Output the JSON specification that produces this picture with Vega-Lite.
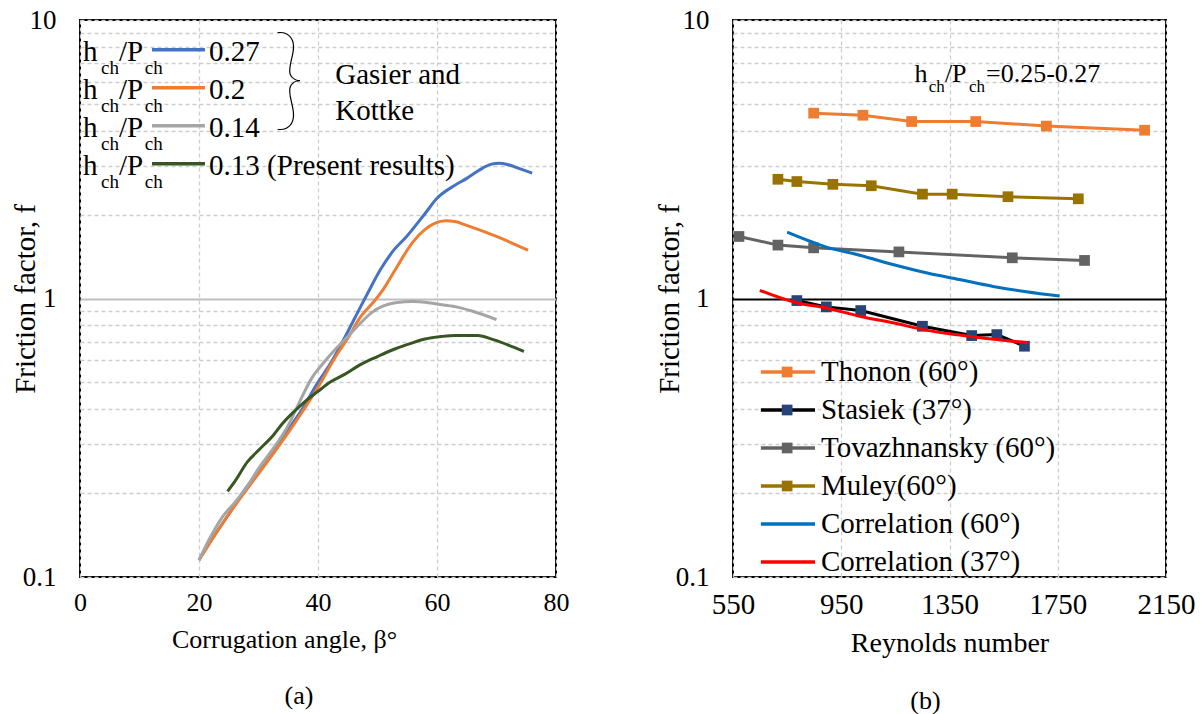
{
  "$schema": "https://vega.github.io/schema/vega-lite/v6.json",
  "background": "white",
  "padding": {"left": 10, "top": 5, "right": 5, "bottom": 0},
  "spacing": 84,
  "resolve": {"scale": {"color": "independent", "fill": "independent", "strokeWidth": "independent"}},
  "config": {
    "font": "Liberation Serif",
    "view": {"stroke": "black", "strokeWidth": 2},
    "axis": {
      "domain": false, "ticks": false, "labelColor": "black", "titleColor": "black",
      "titleFontWeight": "normal", "labelFont": "Liberation Serif", "titleFont": "Liberation Serif",
      "gridColor": "#CDCDCD", "gridDash": [4, 3], "gridWidth": 1.3,
      "labelOverlap": false, "labelFlush": false
    },
    "text": {"font": "Liberation Serif", "color": "black"}
  },
  "datasets": {
    "angleData": [
      {"series": "0.27", "angle": 20, "f": 0.115}, {"series": "0.27", "angle": 22, "f": 0.135},
      {"series": "0.27", "angle": 25, "f": 0.168}, {"series": "0.27", "angle": 28, "f": 0.21},
      {"series": "0.27", "angle": 30, "f": 0.237}, {"series": "0.27", "angle": 33, "f": 0.29},
      {"series": "0.27", "angle": 35, "f": 0.338}, {"series": "0.27", "angle": 37, "f": 0.39},
      {"series": "0.27", "angle": 40, "f": 0.5}, {"series": "0.27", "angle": 42, "f": 0.58},
      {"series": "0.27", "angle": 45, "f": 0.76}, {"series": "0.27", "angle": 47, "f": 0.92},
      {"series": "0.27", "angle": 48.5, "f": 1.06}, {"series": "0.27", "angle": 50.5, "f": 1.27},
      {"series": "0.27", "angle": 52.5, "f": 1.47}, {"series": "0.27", "angle": 55, "f": 1.68},
      {"series": "0.27", "angle": 58, "f": 2.02}, {"series": "0.27", "angle": 60, "f": 2.29},
      {"series": "0.27", "angle": 63, "f": 2.55}, {"series": "0.27", "angle": 65, "f": 2.7},
      {"series": "0.27", "angle": 67, "f": 2.88}, {"series": "0.27", "angle": 69, "f": 3.03},
      {"series": "0.27", "angle": 70.5, "f": 3.06}, {"series": "0.27", "angle": 72, "f": 3.02},
      {"series": "0.27", "angle": 74, "f": 2.92}, {"series": "0.27", "angle": 76, "f": 2.82},

      {"series": "0.2", "angle": 20, "f": 0.115}, {"series": "0.2", "angle": 25, "f": 0.168},
      {"series": "0.2", "angle": 30, "f": 0.235}, {"series": "0.2", "angle": 35, "f": 0.33},
      {"series": "0.2", "angle": 40, "f": 0.48}, {"series": "0.2", "angle": 43, "f": 0.62},
      {"series": "0.2", "angle": 45, "f": 0.72}, {"series": "0.2", "angle": 47, "f": 0.85},
      {"series": "0.2", "angle": 49.4, "f": 0.975}, {"series": "0.2", "angle": 51, "f": 1.08},
      {"series": "0.2", "angle": 52.8, "f": 1.25}, {"series": "0.2", "angle": 56, "f": 1.6},
      {"series": "0.2", "angle": 58, "f": 1.77}, {"series": "0.2", "angle": 59.6, "f": 1.86},
      {"series": "0.2", "angle": 61.5, "f": 1.9}, {"series": "0.2", "angle": 63, "f": 1.89},
      {"series": "0.2", "angle": 65, "f": 1.83}, {"series": "0.2", "angle": 70, "f": 1.67},
      {"series": "0.2", "angle": 75.3, "f": 1.49},

      {"series": "0.14", "angle": 20, "f": 0.115}, {"series": "0.14", "angle": 22, "f": 0.14},
      {"series": "0.14", "angle": 24, "f": 0.165}, {"series": "0.14", "angle": 26, "f": 0.185},
      {"series": "0.14", "angle": 28, "f": 0.21}, {"series": "0.14", "angle": 30, "f": 0.245},
      {"series": "0.14", "angle": 33, "f": 0.3}, {"series": "0.14", "angle": 35, "f": 0.35},
      {"series": "0.14", "angle": 37, "f": 0.43}, {"series": "0.14", "angle": 39, "f": 0.52},
      {"series": "0.14", "angle": 41, "f": 0.59}, {"series": "0.14", "angle": 43, "f": 0.66},
      {"series": "0.14", "angle": 45, "f": 0.73}, {"series": "0.14", "angle": 47, "f": 0.81},
      {"series": "0.14", "angle": 49, "f": 0.89}, {"series": "0.14", "angle": 51, "f": 0.94},
      {"series": "0.14", "angle": 53, "f": 0.965}, {"series": "0.14", "angle": 56, "f": 0.975},
      {"series": "0.14", "angle": 58, "f": 0.97}, {"series": "0.14", "angle": 60, "f": 0.955},
      {"series": "0.14", "angle": 63, "f": 0.935}, {"series": "0.14", "angle": 66, "f": 0.9},
      {"series": "0.14", "angle": 70, "f": 0.84},

      {"series": "0.13", "angle": 24.8, "f": 0.203}, {"series": "0.13", "angle": 26, "f": 0.22},
      {"series": "0.13", "angle": 28.2, "f": 0.26}, {"series": "0.13", "angle": 30, "f": 0.285},
      {"series": "0.13", "angle": 32.6, "f": 0.325}, {"series": "0.13", "angle": 34, "f": 0.355},
      {"series": "0.13", "angle": 36, "f": 0.393}, {"series": "0.13", "angle": 38, "f": 0.43},
      {"series": "0.13", "angle": 40, "f": 0.464}, {"series": "0.13", "angle": 42, "f": 0.5},
      {"series": "0.13", "angle": 44.4, "f": 0.533}, {"series": "0.13", "angle": 47.2, "f": 0.58},
      {"series": "0.13", "angle": 50, "f": 0.619}, {"series": "0.13", "angle": 53, "f": 0.66},
      {"series": "0.13", "angle": 55.6, "f": 0.69}, {"series": "0.13", "angle": 58, "f": 0.715},
      {"series": "0.13", "angle": 60.7, "f": 0.73}, {"series": "0.13", "angle": 63, "f": 0.737},
      {"series": "0.13", "angle": 66.8, "f": 0.736}, {"series": "0.13", "angle": 69.6, "f": 0.71},
      {"series": "0.13", "angle": 72, "f": 0.68}, {"series": "0.13", "angle": 74.6, "f": 0.645}
    ],
    "legA": [
      {"series": "0.27", "rank": 1, "value": "0.27"},
      {"series": "0.2", "rank": 2, "value": "0.2"},
      {"series": "0.14", "rank": 3, "value": "0.14"},
      {"series": "0.13", "rank": 4, "value": "0.13 (Present results)"}
    ],
    "expData": [
      {"src": "Thonon (60°)", "Re": 848, "f": 4.63}, {"src": "Thonon (60°)", "Re": 1030, "f": 4.55},
      {"src": "Thonon (60°)", "Re": 1210, "f": 4.32}, {"src": "Thonon (60°)", "Re": 1447, "f": 4.32},
      {"src": "Thonon (60°)", "Re": 1708, "f": 4.16}, {"src": "Thonon (60°)", "Re": 2071, "f": 4.02},
      {"src": "Stasiek (37°)", "Re": 786, "f": 0.983}, {"src": "Stasiek (37°)", "Re": 895, "f": 0.933},
      {"src": "Stasiek (37°)", "Re": 1022, "f": 0.905}, {"src": "Stasiek (37°)", "Re": 1250, "f": 0.795},
      {"src": "Stasiek (37°)", "Re": 1432, "f": 0.736}, {"src": "Stasiek (37°)", "Re": 1525, "f": 0.742},
      {"src": "Stasiek (37°)", "Re": 1627, "f": 0.674},
      {"src": "Tovazhnansky (60°)", "Re": 572, "f": 1.67}, {"src": "Tovazhnansky (60°)", "Re": 716, "f": 1.555},
      {"src": "Tovazhnansky (60°)", "Re": 848, "f": 1.52}, {"src": "Tovazhnansky (60°)", "Re": 1163, "f": 1.47},
      {"src": "Tovazhnansky (60°)", "Re": 1582, "f": 1.4}, {"src": "Tovazhnansky (60°)", "Re": 1849, "f": 1.37},
      {"src": "Muley(60°)", "Re": 716, "f": 2.68}, {"src": "Muley(60°)", "Re": 786, "f": 2.63},
      {"src": "Muley(60°)", "Re": 919, "f": 2.57}, {"src": "Muley(60°)", "Re": 1061, "f": 2.54},
      {"src": "Muley(60°)", "Re": 1250, "f": 2.37}, {"src": "Muley(60°)", "Re": 1360, "f": 2.37},
      {"src": "Muley(60°)", "Re": 1566, "f": 2.32}, {"src": "Muley(60°)", "Re": 1826, "f": 2.28}
    ],
    "corrData": [
      {"src": "Correlation (60°)", "Re": 750, "f": 1.73}, {"src": "Correlation (60°)", "Re": 895, "f": 1.53},
      {"src": "Correlation (60°)", "Re": 1018, "f": 1.43}, {"src": "Correlation (60°)", "Re": 1141, "f": 1.325},
      {"src": "Correlation (60°)", "Re": 1264, "f": 1.237}, {"src": "Correlation (60°)", "Re": 1387, "f": 1.17},
      {"src": "Correlation (60°)", "Re": 1511, "f": 1.105}, {"src": "Correlation (60°)", "Re": 1634, "f": 1.057},
      {"src": "Correlation (60°)", "Re": 1757, "f": 1.02},
      {"src": "Correlation (37°)", "Re": 649, "f": 1.07}, {"src": "Correlation (37°)", "Re": 786, "f": 0.965},
      {"src": "Correlation (37°)", "Re": 895, "f": 0.925}, {"src": "Correlation (37°)", "Re": 1018, "f": 0.864},
      {"src": "Correlation (37°)", "Re": 1141, "f": 0.818}, {"src": "Correlation (37°)", "Re": 1264, "f": 0.77},
      {"src": "Correlation (37°)", "Re": 1356, "f": 0.745}, {"src": "Correlation (37°)", "Re": 1449, "f": 0.726},
      {"src": "Correlation (37°)", "Re": 1640, "f": 0.693}
    ],
    "legB": [
      {"src": "Thonon (60°)", "rank": 1, "label": "Thonon (60°)"},
      {"src": "Stasiek (37°)", "rank": 2, "label": " Stasiek (37°)"},
      {"src": "Tovazhnansky (60°)", "rank": 3, "label": "Tovazhnansky (60°)"},
      {"src": "Muley(60°)", "rank": 4, "label": "Muley(60°)"},
      {"src": "Correlation (60°)", "rank": 5, "label": "Correlation (60°)"},
      {"src": "Correlation (37°)", "rank": 6, "label": "Correlation (37°)"}
    ]
  },
  "hconcat": [
    {
      "width": 476,
      "height": 557,
      "title": {"text": "(a)", "orient": "bottom", "offset": 31, "fontSize": 26, "fontWeight": "normal", "dx": -19, "font": "Liberation Serif", "color": "black"},
      "resolve": {"scale": {"y": "independent"}},
      "layer": [
        {
          "data": {"name": "angleData"},
          "mark": {"type": "line", "interpolate": "monotone"},
          "encoding": {
            "x": {
              "field": "angle", "type": "quantitative",
              "scale": {"domain": [0, 80], "nice": false, "zero": false},
              "axis": {
                "values": [0, 20, 40, 60, 80], "labelFontSize": 26, "labelPadding": 12, "labelFont": "Liberation Serif",
                "title": "Corrugation angle, β°", "titleFontSize": 26, "titleFont": "Liberation Serif", "titleX": 204, "titleY": 70,
                "titleBaseline": "alphabetic", "grid": true
              }
            },
            "y": {
              "field": "f", "type": "quantitative",
              "scale": {"type": "log", "domain": [0.1, 10], "nice": false},
              "axis": {
                "values": [0.1, 0.2, 0.3, 0.4, 0.5, 0.6, 0.7, 0.8, 0.9, 1, 2, 3, 4, 5, 6, 7, 8, 9, 10],
                "labelExpr": "datum.value == 0.1 ? '0.1' : datum.value == 1 ? '1' : datum.value == 10 ? '10' : ''",
                "labelFontSize": 27, "labelPadding": 24, "labelFont": "Liberation Serif",
                "title": "Friction factor, f", "titleFontSize": 29, "titleFont": "Liberation Serif", "titleX": -46, "titleBaseline": "alphabetic",
                "grid": true,
                "gridDash": {"condition": {"test": "datum.value == 1", "value": []}, "value": [4, 3]},
                "gridColor": {"condition": {"test": "datum.value == 1", "value": "#BFBFBF"}, "value": "#CDCDCD"},
                "gridWidth": {"condition": {"test": "datum.value == 1", "value": 2}, "value": 1.3}
              }
            },
            "color": {
              "field": "series", "type": "nominal",
              "scale": {"domain": ["0.27", "0.2", "0.14", "0.13"], "range": ["#4472C4", "#ED7D31", "#A5A5A5", "#375623"]},
              "legend": null
            },
            "strokeWidth": {
              "field": "series", "type": "nominal",
              "scale": {"domain": ["0.27", "0.2", "0.14", "0.13"], "range": [3, 3, 3, 3.6]},
              "legend": null
            }
          }
        },
        {
          "data": {"name": "legA"},
          "encoding": {
            "y": {"field": "rank", "type": "quantitative", "scale": {"domain": [0.218, 14.875], "reverse": true, "nice": false, "zero": false}, "axis": null}
          },
          "layer": [
            {
              "mark": {"type": "text", "align": "left", "baseline": "alphabetic", "fontSize": 29, "dy": 11, "font": "Liberation Serif", "color": "black"},
              "encoding": {"x": {"datum": 0.5, "type": "quantitative"}, "text": {"value": "h"}}
            },
            {
              "mark": {"type": "text", "align": "left", "baseline": "alphabetic", "fontSize": 19, "dy": 24, "font": "Liberation Serif", "color": "black"},
              "encoding": {"x": {"datum": 3.55, "type": "quantitative"}, "text": {"value": "ch"}}
            },
            {
              "mark": {"type": "text", "align": "left", "baseline": "alphabetic", "fontSize": 29, "dy": 11, "font": "Liberation Serif", "color": "black"},
              "encoding": {"x": {"datum": 6.55, "type": "quantitative"}, "text": {"value": "/P"}}
            },
            {
              "mark": {"type": "text", "align": "left", "baseline": "alphabetic", "fontSize": 19, "dy": 24, "font": "Liberation Serif", "color": "black"},
              "encoding": {"x": {"datum": 10.9, "type": "quantitative"}, "text": {"value": "ch"}}
            },
            {
              "mark": {"type": "rule", "strokeWidth": 3.5},
              "encoding": {
                "x": {"datum": 12.1, "type": "quantitative"},
                "x2": {"datum": 21.0},
                "color": {"field": "series", "type": "nominal", "legend": null}
              }
            },
            {
              "mark": {"type": "text", "align": "left", "baseline": "alphabetic", "fontSize": 29, "dy": 11, "font": "Liberation Serif", "color": "black"},
              "encoding": {"x": {"datum": 21.7, "type": "quantitative"}, "text": {"field": "value"}}
            },
            {
              "transform": [{"filter": {"field": "rank", "equal": 1}}],
              "mark": {"type": "text", "align": "left", "baseline": "middle", "fontSize": 112, "fontWeight": 200, "dy": 32, "font": "Lato", "color": "black"},
              "encoding": {"x": {"datum": 32.4, "type": "quantitative"}, "text": {"value": "}"}}
            },
            {
              "transform": [{"filter": {"field": "rank", "equal": 1}}],
              "mark": {"type": "text", "align": "left", "baseline": "alphabetic", "fontSize": 29, "lineHeight": 36, "dy": 34, "font": "Liberation Serif", "color": "black"},
              "encoding": {"x": {"datum": 42.9, "type": "quantitative"}, "text": {"value": ["Gasier and", "Kottke"]}}
            }
          ]
        }
      ]
    },
    {
      "width": 433,
      "height": 557,
      "title": {"text": "(b)", "orient": "bottom", "offset": 31, "fontSize": 26, "fontWeight": "normal", "dx": -24, "font": "Liberation Serif", "color": "black"},
      "resolve": {"scale": {"y": "independent"}},
      "layer": [
        {
          "encoding": {
            "x": {
              "field": "Re", "type": "quantitative",
              "scale": {"domain": [550, 2150], "nice": false, "zero": false},
              "axis": {
                "values": [550, 950, 1350, 1750, 2150], "format": "d", "labelFontSize": 29, "labelPadding": 13, "labelFont": "Liberation Serif",
                "title": "Reynolds number", "titleFontSize": 28, "titleFont": "Liberation Serif", "titleY": 74, "titleBaseline": "alphabetic",
                "grid": true
              }
            },
            "y": {
              "field": "f", "type": "quantitative",
              "scale": {"type": "log", "domain": [0.1, 10], "nice": false},
              "axis": {
                "values": [0.1, 0.2, 0.3, 0.4, 0.5, 0.6, 0.7, 0.8, 0.9, 1, 2, 3, 4, 5, 6, 7, 8, 9, 10],
                "labelExpr": "datum.value == 0.1 ? '0.1' : datum.value == 1 ? '1' : datum.value == 10 ? '10' : ''",
                "labelFontSize": 27, "labelPadding": 24, "labelFont": "Liberation Serif",
                "title": "Friction factor, f", "titleFontSize": 29, "titleFont": "Liberation Serif", "titleX": -55, "titleBaseline": "alphabetic",
                "grid": true,
                "gridDash": {"condition": {"test": "datum.value == 1", "value": []}, "value": [4, 3]},
                "gridColor": {"condition": {"test": "datum.value == 1", "value": "#000000"}, "value": "#CDCDCD"},
                "gridWidth": {"condition": {"test": "datum.value == 1", "value": 2}, "value": 1.3}
              }
            }
          },
          "layer": [
            {
              "data": {"name": "expData"},
              "mark": {"type": "line", "strokeWidth": 3},
              "encoding": {
                "color": {
                  "field": "src", "type": "nominal",
                  "scale": {
                    "domain": ["Thonon (60°)", "Stasiek (37°)", "Tovazhnansky (60°)", "Muley(60°)", "Correlation (60°)", "Correlation (37°)"],
                    "range": ["#ED7D31", "#000000", "#636363", "#997300", "#0070C0", "#FF0000"]
                  },
                  "legend": null
                }
              }
            },
            {
              "data": {"name": "expData"},
              "mark": {"type": "point", "shape": "square", "filled": true, "size": 115, "opacity": 1},
              "encoding": {
                "fill": {
                  "field": "src", "type": "nominal",
                  "scale": {
                    "domain": ["Thonon (60°)", "Stasiek (37°)", "Tovazhnansky (60°)", "Muley(60°)"],
                    "range": ["#ED7D31", "#264478", "#636363", "#997300"]
                  },
                  "legend": null
                }
              }
            },
            {
              "data": {"name": "corrData"},
              "mark": {"type": "line", "strokeWidth": 3, "interpolate": "monotone"},
              "encoding": {"color": {"field": "src", "type": "nominal", "legend": null}}
            }
          ]
        },
        {
          "data": {"name": "legB"},
          "encoding": {
            "y": {"field": "rank", "type": "quantitative", "scale": {"domain": [-8.263, 6.395], "reverse": true, "nice": false, "zero": false}, "axis": null}
          },
          "layer": [
            {
              "mark": {"type": "rule", "strokeWidth": 3.5},
              "encoding": {
                "x": {"datum": 653, "type": "quantitative"},
                "x2": {"datum": 853},
                "color": {"field": "src", "type": "nominal", "legend": null}
              }
            },
            {
              "transform": [{"filter": {"field": "src", "oneOf": ["Thonon (60°)", "Stasiek (37°)", "Tovazhnansky (60°)", "Muley(60°)"]}}],
              "mark": {"type": "point", "shape": "square", "filled": true, "size": 115, "opacity": 1},
              "encoding": {
                "x": {"datum": 750, "type": "quantitative"},
                "fill": {"field": "src", "type": "nominal", "legend": null}
              }
            },
            {
              "mark": {"type": "text", "align": "left", "baseline": "alphabetic", "fontSize": 29, "dy": 9.5, "font": "Liberation Serif", "color": "black"},
              "encoding": {"x": {"datum": 875, "type": "quantitative"}, "text": {"field": "label"}}
            },
            {
              "transform": [{"filter": {"field": "rank", "equal": 1}}],
              "mark": {"type": "text", "align": "left", "baseline": "alphabetic", "fontSize": 26, "dy": -290, "font": "Liberation Serif", "color": "black"},
              "encoding": {"x": {"datum": 1221, "type": "quantitative"}, "text": {"value": "h"}}
            },
            {
              "transform": [{"filter": {"field": "rank", "equal": 1}}],
              "mark": {"type": "text", "align": "left", "baseline": "alphabetic", "fontSize": 17, "dy": -280, "font": "Liberation Serif", "color": "black"},
              "encoding": {"x": {"datum": 1273, "type": "quantitative"}, "text": {"value": "ch"}}
            },
            {
              "transform": [{"filter": {"field": "rank", "equal": 1}}],
              "mark": {"type": "text", "align": "left", "baseline": "alphabetic", "fontSize": 26, "dy": -290, "font": "Liberation Serif", "color": "black"},
              "encoding": {"x": {"datum": 1333, "type": "quantitative"}, "text": {"value": "/P"}}
            },
            {
              "transform": [{"filter": {"field": "rank", "equal": 1}}],
              "mark": {"type": "text", "align": "left", "baseline": "alphabetic", "fontSize": 17, "dy": -280, "font": "Liberation Serif", "color": "black"},
              "encoding": {"x": {"datum": 1422, "type": "quantitative"}, "text": {"value": "ch"}}
            },
            {
              "transform": [{"filter": {"field": "rank", "equal": 1}}],
              "mark": {"type": "text", "align": "left", "baseline": "alphabetic", "fontSize": 26, "dy": -290, "font": "Liberation Serif", "color": "black"},
              "encoding": {"x": {"datum": 1485, "type": "quantitative"}, "text": {"value": "=0.25-0.27"}}
            }
          ]
        }
      ]
    }
  ]
}
